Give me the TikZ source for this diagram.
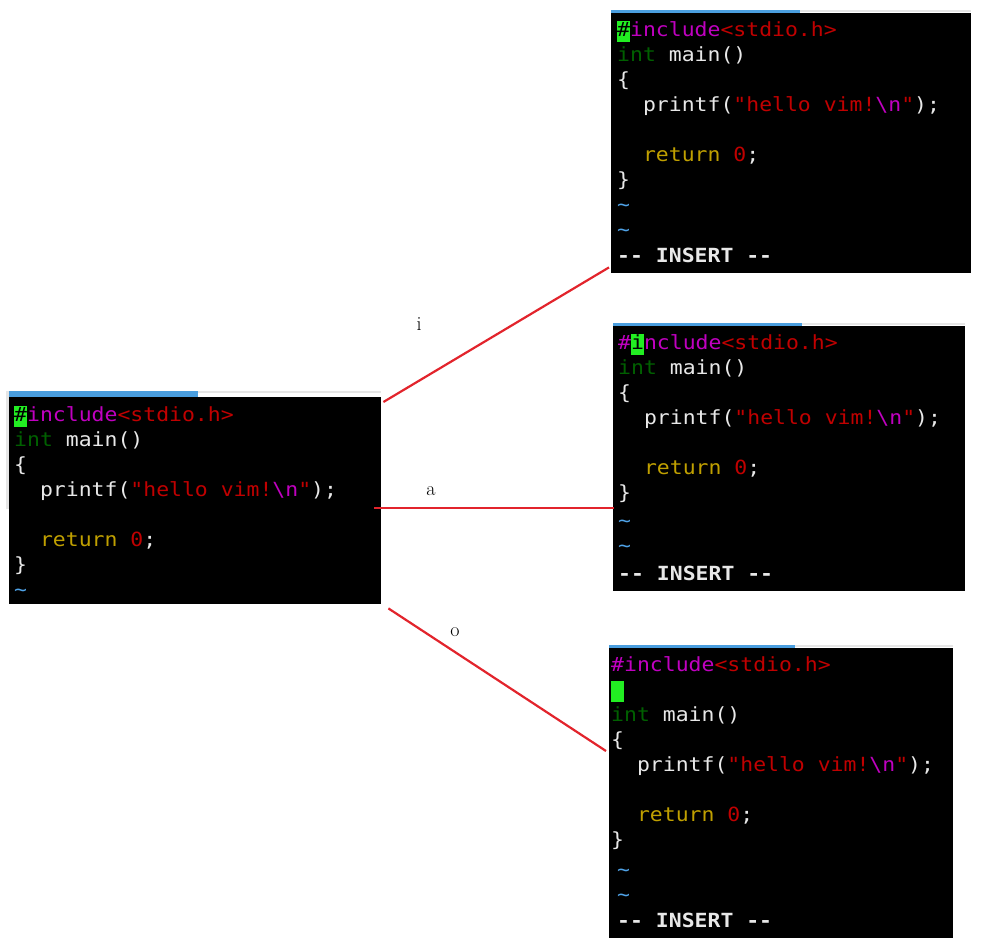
\documentclass[tikz,border=0pt]{standalone}
\usepackage{fontspec}
\usepackage{xcolor}
\usepackage{tikz}
\newfontfamily\vimfont{DejaVu Sans Mono}[FakeStretch=1.1, Ligatures=TeXOff]

\definecolor{vimfg}{HTML}{E8E8E8}
\definecolor{vimmag}{HTML}{C000C0}
\definecolor{vimred}{HTML}{C00000}
\definecolor{vimgreen}{HTML}{006000}
\definecolor{vimyellow}{HTML}{C0A000}
\definecolor{vimtilde}{HTML}{4FA3E8}
\definecolor{vimcursor}{HTML}{22EE22}
\definecolor{barblue}{HTML}{4A9EDF}
\definecolor{bargray}{HTML}{E6E6E6}
\definecolor{linkred}{HTML}{E2242C}

\newcommand{\cpre}[1]{\textcolor{vimmag}{#1}}
\newcommand{\cstr}[1]{\textcolor{vimred}{#1}}
\newcommand{\ctype}[1]{\textcolor{vimgreen}{#1}}
\newcommand{\cstat}[1]{\textcolor{vimyellow}{#1}}
\newcommand{\cnon}{\textcolor{vimtilde}{\textasciitilde}}
\newcommand{\vimcur}[1]{\makebox[0pt][l]{\textcolor{vimcursor}{\rule[-6pt]{12.9pt}{21pt}}}\textcolor{black}{#1}}
\newcommand{\codebody}{\ctype{int} main()\\ \{\\ \phantom{xx}printf(\cstr{"hello vim!}\cpre{\textbackslash n}\cstr{"});\\ ~\\ \phantom{xx}\cstat{return} \cstr{0};\\ \}}

\begin{document}
\begin{tikzpicture}[x=1pt, y=-1pt,
    term/.style={fill=black, inner sep=0pt, anchor=north west},
    code/.style={anchor=base west, inner sep=0pt, align=left, text=vimfg,
        font=\vimfont\fontsize{19.5}{25}\selectfont},
    link/.style={draw=linkred, line width=2.2pt},
    lbl/.style={font=\fontsize{20}{24}\selectfont}]
    \useasboundingbox (0,0) rectangle (983,945);

    % Finestra di partenza (base = ultima riga)
    \fill[bargray] (6,391) rectangle (9,509);
    \fill[bargray] (198,391) rectangle (381,393);
    \fill[barblue] (9,391) rectangle (198,397);
    \node[term, minimum width=372, minimum height=207] (src) at (9,397) {};
    \node[code] (srctext) at (14,596)
        {\vimcur{\#}\cpre{include}\cstr{<stdio.h>}\\ \codebody\\ \cnon};

    % Comando i
    \fill[bargray] (800,10) rectangle (971,12);
    \fill[barblue] (611,10) rectangle (800,13);
    \node[term, minimum width=360, minimum height=260] (ins) at (611,13) {};
    \node[code] (instext) at (617,262)
        {\vimcur{\#}\cpre{include}\cstr{<stdio.h>}\\ \codebody\\ \cnon\\ \cnon\\[1pt]
         \textbf{-- INSERT --}};

    % Comando a
    \fill[bargray] (802,323) rectangle (965,325);
    \fill[barblue] (613,323) rectangle (802,326);
    \node[term, minimum width=352, minimum height=265] (app) at (613,326) {};
    \node[code] (apptext) at (618,580)
        {\cpre{\#}\vimcur{i}\cpre{nclude}\cstr{<stdio.h>}\\ \codebody\\[3pt] \cnon\\ \cnon\\[3pt]
         \textbf{-- INSERT --}};

    % Comando o
    \fill[bargray] (795,645) rectangle (953,647);
    \fill[barblue] (609,645) rectangle (795,648);
    \node[term, minimum width=344, minimum height=290] (opn) at (609,648) {};
    \node[code] (opntext) at (611,927)
        {\cpre{\#include}\cstr{<stdio.h>}\\ \vimcur{~}\\ \codebody\\[5pt]
         \hspace*{6pt}\cnon\\ \hspace*{6pt}\cnon\\[1pt]
         \hspace*{6pt}\textbf{-- INSERT --}};

    % Collegamenti ed etichette
    \draw[link] ([shift={(2,5)}]src.north east) -- ([shift={(-2,-6)}]ins.south west);
    \draw[link] ([shift={(-7,7.5)}]src.east) -- ([shift={(1,49.5)}]app.west);
    \draw[link] ([shift={(7,4)}]src.south east) -- ([shift={(-3,103)}]opn.north west);
    \node[lbl] (keyi) at (419,324) {i};
    \node[lbl] (keya) at (431,491) {a};
    \node[lbl] (keyo) at (455,632) {o};
\end{tikzpicture}
\end{document}
